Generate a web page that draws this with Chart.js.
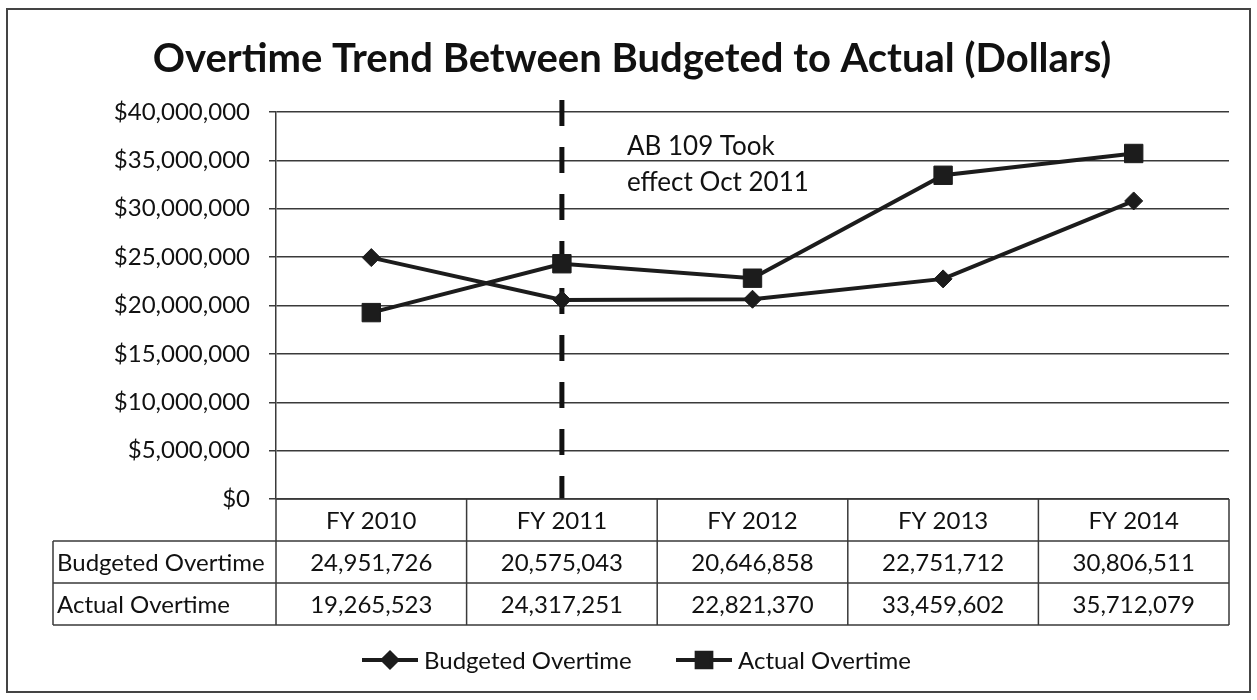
<!DOCTYPE html>
<html>
<head>
<meta charset="utf-8">
<title>Overtime Trend</title>
<script src="https://cdn.jsdelivr.net/npm/chart.js@4"></script>
<style>
  html, body { margin: 0; padding: 0; background: #fff; }
  #wrap { position: relative; width: 1257px; height: 700px; }
</style>
</head>
<body>
<div id="wrap"><canvas id="otChart"></canvas></div>
<script>
// fiscal years and the two overtime series (dollars)
const years = ['FY 2010', 'FY 2011', 'FY 2012', 'FY 2013', 'FY 2014'];
const budgeted = [24951726, 20575043, 20646858, 22751712, 30806511];
const actual = [19265523, 24317251, 22821370, 33459602, 35712079];
const seriesNames = ['Budgeted Overtime', 'Actual Overtime'];

// y axis range
const yMin = 0;
const yMax = 40000000;
const yStep = 5000000;

// marker line for AB 109
const noteYear = 'FY 2011';
const noteLines = ['AB 109 Took', 'effect Oct 2011'];

const chartTitle = 'Overtime Trend Between Budgeted to Actual (Dollars)';

const FONT = 'Lato, "Open Sans", sans-serif';
const INK = '#1c1c1c';
const RULE = '#3a3a3a';

const fmt = v => v.toLocaleString('en-US');

// dashed vertical line + note text
const notePlugin = {
  id: 'abNote',
  beforeDatasetsDraw(chart) {
    const { ctx, chartArea, scales } = chart;
    const x = scales.x.getPixelForValue(years.indexOf(noteYear));
    ctx.save();
    ctx.strokeStyle = '#111';
    ctx.lineWidth = 5;
    ctx.setLineDash([26, 21]);
    ctx.beginPath();
    ctx.moveTo(x, 100);
    ctx.lineTo(x, chartArea.bottom);
    ctx.stroke();
    ctx.setLineDash([]);
    ctx.fillStyle = '#111';
    ctx.font = '26px ' + FONT;
    ctx.textAlign = 'left';
    ctx.textBaseline = 'middle';
    ctx.fillText(noteLines[0], x + 65, 147);
    ctx.fillText(noteLines[1], x + 65, 183);
    ctx.restore();
  }
};

// frame, title, data table and legend
const extrasPlugin = {
  id: 'extras',
  afterDraw(chart) {
    const { ctx, chartArea } = chart;
    const left = chartArea.left, right = chartArea.right;
    const colW = (right - left) / years.length;
    const rows = [499, 541, 583, 625];
    const labelLeft = 53;

    ctx.save();

    // outer frame
    ctx.strokeStyle = '#444';
    ctx.lineWidth = 2;
    ctx.strokeRect(7, 9, 1243, 683);

    // title
    ctx.fillStyle = '#111';
    ctx.font = 'bold 40px ' + FONT;
    ctx.textAlign = 'center';
    ctx.textBaseline = 'alphabetic';
    ctx.fillText(chartTitle, 632, 72);

    // table grid
    ctx.strokeStyle = RULE;
    ctx.lineWidth = 1.5;
    ctx.beginPath();
    ctx.moveTo(left, rows[0]); ctx.lineTo(right, rows[0]);
    for (let r = 1; r < rows.length; r++) {
      ctx.moveTo(labelLeft, rows[r]); ctx.lineTo(right, rows[r]);
    }
    ctx.moveTo(labelLeft, rows[1]); ctx.lineTo(labelLeft, rows[3]);
    for (let i = 0; i <= years.length; i++) {
      const x = left + i * colW;
      ctx.moveTo(x, rows[0]); ctx.lineTo(x, rows[3]);
    }
    ctx.stroke();

    // table text
    ctx.font = '24px ' + FONT;
    ctx.textBaseline = 'middle';
    ctx.textAlign = 'center';
    const values = [budgeted, actual];
    years.forEach((yr, i) => {
      const cx = left + (i + 0.5) * colW;
      ctx.fillText(yr, cx, (rows[0] + rows[1]) / 2 + 1);
      values.forEach((arr, r) => {
        ctx.fillText(fmt(arr[i]), cx, (rows[r + 1] + rows[r + 2]) / 2 + 1);
      });
    });
    ctx.textAlign = 'left';
    seriesNames.forEach((name, r) => {
      ctx.fillText(name, labelLeft + 4, (rows[r + 1] + rows[r + 2]) / 2 + 1);
    });

    // legend
    const legendY = 660;
    const legendX = [362, 676];
    chart.data.datasets.forEach((ds, i) => {
      const x0 = legendX[i];
      ctx.strokeStyle = ds.borderColor;
      ctx.lineWidth = ds.borderWidth;
      ctx.beginPath();
      ctx.moveTo(x0, legendY); ctx.lineTo(x0 + 56, legendY);
      ctx.stroke();
      ctx.fillStyle = ds.pointBackgroundColor;
      ctx.strokeStyle = ds.pointBorderColor;
      Chart.helpers.drawPoint(ctx, {
        pointStyle: ds.pointStyle,
        radius: ds.pointRadius * 0.8,
        rotation: 0,
        borderWidth: 1
      }, x0 + 28, legendY);
      ctx.fillStyle = '#111';
      ctx.font = '24px ' + FONT;
      ctx.textAlign = 'left';
      ctx.textBaseline = 'middle';
      ctx.fillText(ds.label, x0 + 62, legendY + 1);
    });

    ctx.restore();
  }
};

new Chart(document.getElementById('otChart'), {
  type: 'line',
  data: {
    labels: years,
    datasets: [
      {
        label: seriesNames[0],
        data: budgeted,
        borderColor: INK,
        borderWidth: 4,
        pointStyle: 'rectRot',
        pointRadius: 9,
        pointBackgroundColor: INK,
        pointBorderColor: INK,
        pointBorderWidth: 1,
        tension: 0
      },
      {
        label: seriesNames[1],
        data: actual,
        borderColor: INK,
        borderWidth: 4,
        pointStyle: 'rect',
        pointRadius: 13,
        pointBackgroundColor: INK,
        pointBorderColor: INK,
        pointBorderWidth: 1,
        tension: 0
      }
    ]
  },
  options: {
    responsive: true,
    maintainAspectRatio: false,
    animation: false,
    layout: { padding: { top: 112, right: 28, bottom: 201, left: 0 } },
    plugins: {
      legend: { display: false },
      title: { display: false },
      tooltip: { enabled: false }
    },
    scales: {
      x: {
        type: 'category',
        offset: true,
        grid: { display: false },
        border: { display: false },
        ticks: { display: false },
        afterFit(scale) { scale.height = 0; }
      },
      y: {
        min: yMin,
        max: yMax,
        ticks: {
          stepSize: yStep,
          color: '#111',
          font: { family: FONT, size: 24 },
          padding: 19,
          callback: v => '$' + fmt(v)
        },
        grid: { color: RULE, lineWidth: 1.5, tickLength: 7 },
        border: { display: true, color: RULE, width: 1.5 },
        afterFit(scale) { scale.width = 276; }
      }
    }
  },
  plugins: [notePlugin, extrasPlugin]
});
</script>
</body>
</html>
